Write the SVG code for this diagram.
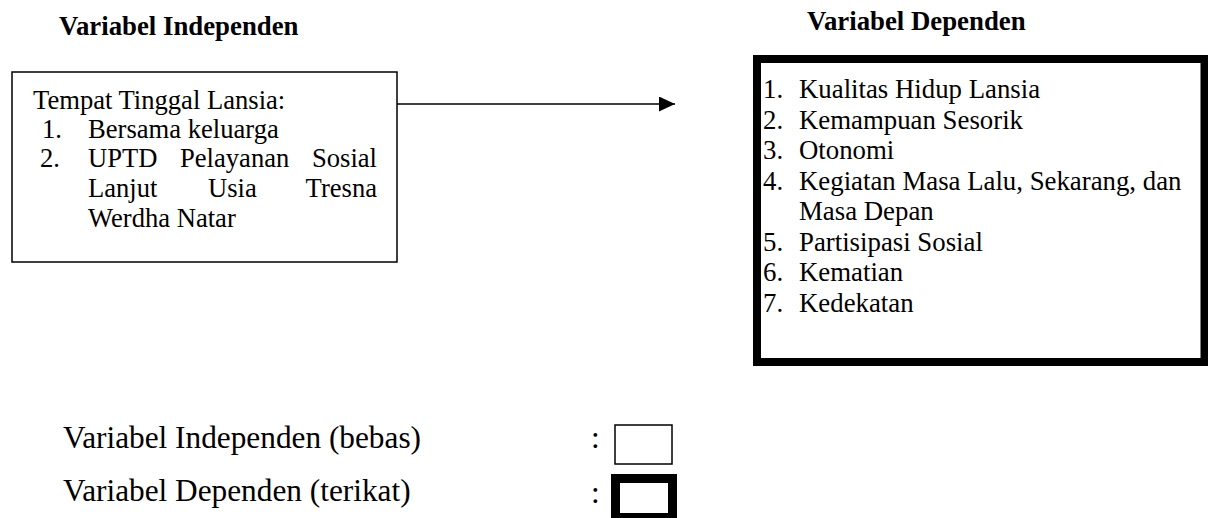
<svg xmlns="http://www.w3.org/2000/svg" width="1208" height="518" viewBox="0 0 1208 518">
<defs>
<style>
text{font-family:"Liberation Serif","Times New Roman",serif;fill:#000}
.t{font-size:26.6px}
.r{font-size:26.8px}
.h{font-size:26.8px;font-weight:bold}
.lg{font-size:31.3px}
.thin{fill:#fff;stroke:#000;stroke-width:1.5}
.thick{fill:#fff;stroke:#000;stroke-width:8}
</style>
<marker id="ah" markerWidth="16" markerHeight="16" refX="16" refY="7.5" orient="auto" markerUnits="userSpaceOnUse">
<path d="M0,0 L16,7.5 L0,15 Z" fill="#000"/>
</marker>
</defs>
<rect width="1208" height="518" fill="#fff"/>
<g id="title-independen"><text class="h" x="59" y="35">Variabel Independen</text></g>
<g id="title-dependen"><text class="h" x="807" y="30">Variabel Dependen</text></g>
<g id="node-independen">
<rect class="thin" x="12" y="72" width="385" height="190"/>
<text class="t" x="33" y="109">Tempat Tinggal Lansia:</text>
<text class="t" x="42" y="138">1.</text>
<text class="t" x="88" y="138">Bersama keluarga</text>
<text class="t" x="40" y="167">2.</text>
<text class="t" x="88" y="167">UPTD</text>
<text class="t" x="180" y="167">Pelayanan</text>
<text class="t" x="377" y="167" text-anchor="end">Sosial</text>
<text class="t" x="88" y="197">Lanjut</text>
<text class="t" x="208" y="197">Usia</text>
<text class="t" x="377" y="197" text-anchor="end">Tresna</text>
<text class="t" x="88" y="227">Werdha Natar</text>
</g>
<g id="node-dependen">
<rect class="thick" x="757" y="59" width="447.5" height="303"/>
<text class="r" x="763" y="98">1.</text><text class="r" x="799" y="98">Kualitas Hidup Lansia</text>
<text class="r" x="763" y="128.5">2.</text><text class="r" x="799" y="128.5">Kemampuan Sesorik</text>
<text class="r" x="763" y="159">3.</text><text class="r" x="799" y="159">Otonomi</text>
<text class="r" x="763" y="189.5">4.</text><text class="r" x="799" y="189.5">Kegiatan Masa Lalu, Sekarang, dan</text>
<text class="r" x="799" y="220">Masa Depan</text>
<text class="r" x="763" y="250.5">5.</text><text class="r" x="799" y="250.5">Partisipasi Sosial</text>
<text class="r" x="763" y="281">6.</text><text class="r" x="799" y="281">Kematian</text>
<text class="r" x="763" y="311.5">7.</text><text class="r" x="799" y="311.5">Kedekatan</text>
</g>
<g id="connectors">
<line x1="397" y1="104" x2="675" y2="104" stroke="#000" stroke-width="1.5" marker-end="url(#ah)"/>
</g>
<g id="legend">
<text class="lg" x="63" y="448">Variabel Independen (bebas)</text>
<text class="lg" x="63" y="501">Variabel Dependen (terikat)</text>
<text class="lg" x="591" y="448">:</text>
<text class="lg" x="591" y="503">:</text>
<rect class="thin" x="615" y="425" width="57" height="39"/>
<rect x="615.5" y="478.5" width="57" height="39" fill="#fff" stroke="#000" stroke-width="9"/>
</g>
</svg>
